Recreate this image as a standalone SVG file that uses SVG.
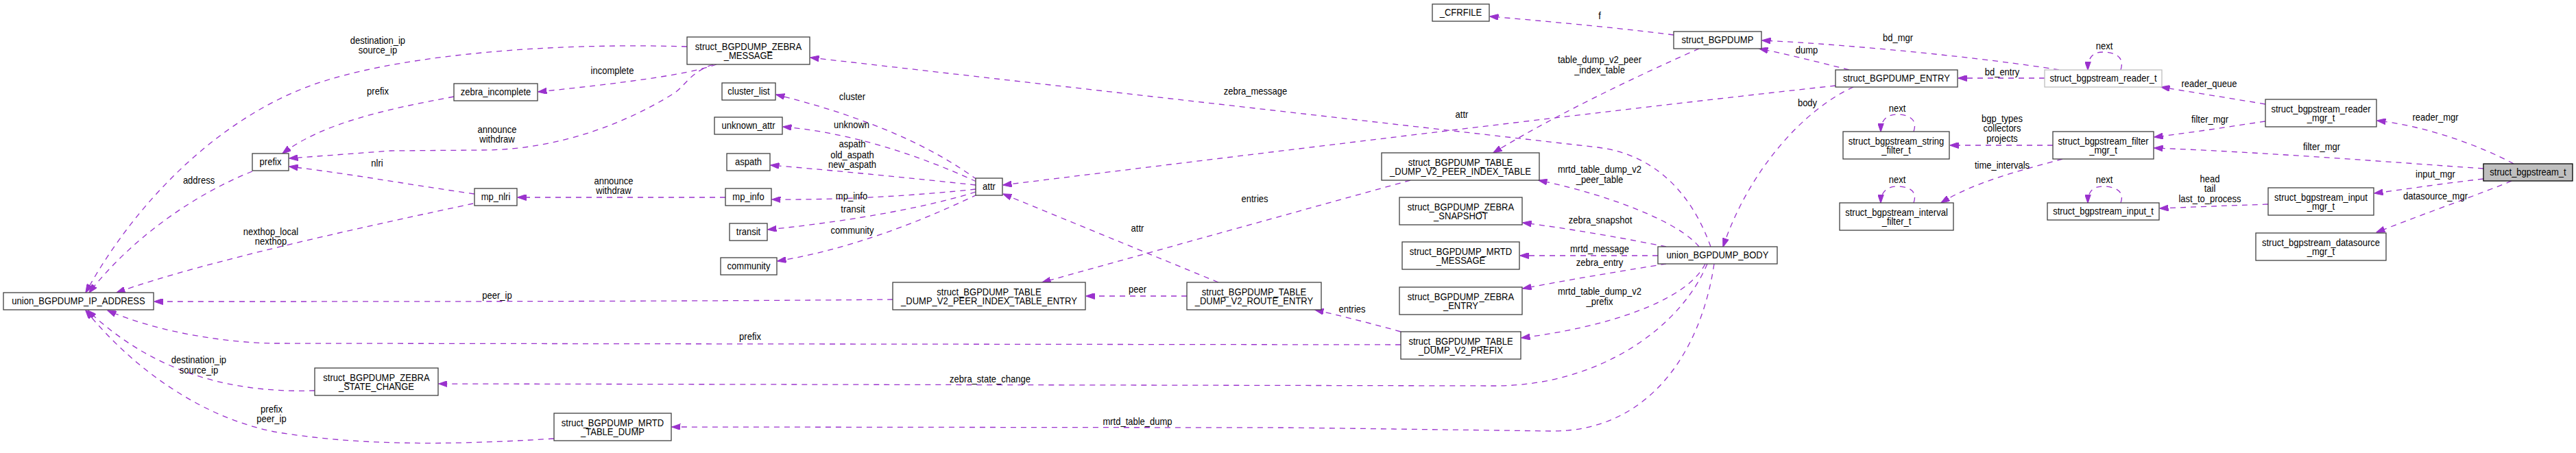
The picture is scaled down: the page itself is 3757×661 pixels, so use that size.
<svg xmlns="http://www.w3.org/2000/svg" width="3757" height="661" viewBox="0 0 3757 661">
<style>
text{font-family:"Liberation Sans",Arial,Helvetica,sans-serif;font-size:14px;text-anchor:middle;fill:#000;transform-box:fill-box;transform-origin:center;transform:scaleX(0.93)}
.node rect{fill:#fff;stroke:#404040;stroke-width:1.3}
#n_reader_t rect{stroke:#bfbfbf}
#n_bgpstream_t rect{fill:#bfbfbf;stroke:#000}
.e path{fill:none;stroke:#9a32cd;stroke-width:1.3;stroke-dasharray:8,7;marker-end:url(#arr)}
</style>
<defs>
<marker id="arr" viewBox="0 0 13 9" refX="12.5" refY="4.5" markerWidth="13" markerHeight="9" markerUnits="userSpaceOnUse" orient="auto">
<path d="M0,0 L13,4.5 L0,9 z" fill="#9a32cd" stroke="#9a32cd" stroke-width="1"/>
</marker>
</defs>
<rect width="3757" height="661" fill="#fff"/>

<g id="edges" class="e">
<path d="M3666,239 C3620,214 3540,184 3467,176"/>
<path d="M3622,246 C3480,236 3300,222 3142,216"/>
<path d="M3622,261 C3560,268 3510,276 3463,282"/>
<path d="M3663,264 C3620,282 3540,310 3466,339"/>
<path d="M3304,152 C3250,143 3200,135 3152,127"/>
<path d="M3304,177 C3250,185 3200,193 3142,200"/>
<path d="M3308,298 C3250,300 3200,302 3150,304"/>
<path d="M2982,114 L2856,114"/>
<path d="M3003,102 C2900,85 2700,65 2570,59"/>
<path d="M2697,102 C2650,90 2610,80 2566,71"/>
<path d="M2441,51 C2380,43 2280,33 2173,24"/>
<path d="M2478,71 C2430,92 2280,160 2178,223"/>
<path d="M2703,127 C2630,160 2550,250 2513,360"/>
<path d="M2677,125 C2400,155 1900,216 1463,270"/>
<path d="M2495,360 C2470,290 2420,226 2330,215 L1182,84"/>
<path d="M2478,360 C2450,325 2350,285 2244,263"/>
<path d="M2430,360 C2380,350 2300,335 2221,325"/>
<path d="M2418,373 L2217,373"/>
<path d="M2430,385 C2380,393 2300,406 2221,421"/>
<path d="M2487,385 C2460,440 2340,478 2219,493"/>
<path d="M2490,385 C2450,480 2330,563 2180,563 L640,560"/>
<path d="M2500,385 C2480,520 2400,630 2263,629 L1880,624 L980,623"/>
<path d="M1777,412 L1463,283"/>
<path d="M1731,432 L1584,432"/>
<path d="M2043,484 C2000,472 1960,462 1918,452"/>
<path d="M2043,503 L400,501 C330,500 230,485 157,453"/>
<path d="M2057,263 L1520,412"/>
<path d="M1302,437 C1000,440 600,440 225,440"/>
<path d="M459,570 C330,574 220,540 128,453"/>
<path d="M808,640 C650,650 520,650 400,630 C300,610 200,545 125,453"/>
<path d="M1002,68 C800,62 600,80 480,116 C330,160 200,290 125,427"/>
<path d="M1045,94 C1000,110 900,122 785,134"/>
<path d="M1040,94 C1005,106 1000,126 980,138 C920,175 820,219 703,219 L570,220 L422,231"/>
<path d="M662,141 C560,160 470,180 412,224"/>
<path d="M692,283 C600,270 520,255 422,243"/>
<path d="M690,297 C560,325 300,380 170,427"/>
<path d="M1058,288 L755,288"/>
<path d="M368,250 C280,285 190,350 130,427"/>
<path d="M1425,262 C1380,230 1300,180 1132,138"/>
<path d="M1424,265 C1370,240 1260,195 1142,185"/>
<path d="M1423,270 C1330,260 1230,250 1124,241"/>
<path d="M1423,276 C1340,285 1230,292 1126,291"/>
<path d="M1423,280 C1360,300 1250,322 1120,335"/>
<path d="M1425,284 C1370,310 1260,360 1134,381"/>
<path d="M2994,212 L2844,212"/>
<path d="M3008,232 C2950,248 2880,265 2831,296"/>
<path d="M3093,102 C3100,80 3080,76 3067,76 C3052,76 3045,84 3045,102"/>
<path d="M3093,296 C3100,276 3080,272 3067,272 C3052,272 3045,280 3045,296"/>
<path d="M2791,192 C2798,172 2780,167 2767,167 C2752,167 2743,175 2743,192"/>
<path d="M2791,296 C2798,276 2780,272 2767,272 C2752,272 2743,280 2743,296"/>

<text x="3552" y="176.5">reader_mgr</text>
<text x="3386" y="219.5">filter_mgr</text>
<text x="3552" y="259.5">input_mgr</text>
<text x="3552" y="291.5">datasource_mgr</text>
<text x="3222" y="127.5">reader_queue</text>
<text x="3223" y="179.5">filter_mgr</text>
<text><tspan x="3223" y="266">head</tspan><tspan x="3223" y="280.5">tail</tspan><tspan x="3223" y="295.5">last_to_process</tspan></text>
<text x="3069" y="72.5">next</text>
<text x="3069" y="267.5">next</text>
<text x="2920" y="110.5">bd_entry</text>
<text x="2768" y="60">bd_mgr</text>
<text><tspan x="2920" y="178.5">bgp_types</tspan><tspan x="2920" y="192.5">collectors</tspan><tspan x="2920" y="207.5">projects</tspan></text>
<text x="2920" y="246.5">time_intervals</text>
<text x="2767" y="163">next</text>
<text x="2767" y="267">next</text>
<text x="2635" y="78.5">dump</text>
<text x="2636" y="155.5">body</text>
<text x="2132" y="172">attr</text>
<text x="2333" y="28.5">f</text>
<text><tspan x="2333" y="92.5">table_dump_v2_peer</tspan><tspan x="2333" y="107.5">_index_table</tspan></text>
<text><tspan x="2333" y="252.5">mrtd_table_dump_v2</tspan><tspan x="2333" y="267.5">_peer_table</tspan></text>
<text x="2334" y="326.5">zebra_snapshot</text>
<text x="2333" y="368">mrtd_message</text>
<text x="2333" y="388.5">zebra_entry</text>
<text><tspan x="2333" y="430.5">mrtd_table_dump_v2</tspan><tspan x="2333" y="445">_prefix</tspan></text>
<text x="1831" y="138.5">zebra_message</text>
<text x="1444" y="558">zebra_state_change</text>
<text x="1659" y="620">mrtd_table_dump</text>
<text x="1659" y="338.5">attr</text>
<text x="1659" y="427.5">peer</text>
<text x="1972" y="456.5">entries</text>
<text x="1094" y="496.5">prefix</text>
<text x="1830" y="295.5">entries</text>
<text x="725" y="436">peer_ip</text>
<text><tspan x="290" y="530.5">destination_ip</tspan><tspan x="290" y="545">source_ip</tspan></text>
<text><tspan x="396" y="602.5">prefix</tspan><tspan x="396" y="616.5">peer_ip</tspan></text>
<text><tspan x="551" y="64">destination_ip</tspan><tspan x="551" y="78.5">source_ip</tspan></text>
<text x="893" y="108.5">incomplete</text>
<text><tspan x="725" y="194.5">announce</tspan><tspan x="725" y="208.5">withdraw</tspan></text>
<text x="551" y="138.5">prefix</text>
<text x="550" y="243.5">nlri</text>
<text><tspan x="395" y="343">nexthop_local</tspan><tspan x="395" y="357">nexthop</tspan></text>
<text><tspan x="895" y="269">announce</tspan><tspan x="895" y="283.5">withdraw</tspan></text>
<text x="290" y="268">address</text>
<text x="1243" y="146.5">cluster</text>
<text x="1242" y="187.5">unknown</text>
<text><tspan x="1243" y="215.5">aspath</tspan><tspan x="1243" y="231">old_aspath</tspan><tspan x="1243" y="245">new_aspath</tspan></text>
<text x="1242" y="291">mp_info</text>
<text x="1244" y="310.5">transit</text>
<text x="1243" y="341">community</text>
</g>

<g id="n_ip_address" class="node"><rect x="5" y="427" width="219" height="25"/><text x="114.5" y="444">union_BGPDUMP_IP_ADDRESS</text></g>
<g id="n_prefix" class="node"><rect x="368" y="224" width="53" height="25"/><text x="394.5" y="241">prefix</text></g>
<g id="n_zebra_incomplete" class="node"><rect x="662" y="122" width="122" height="25"/><text x="723" y="139">zebra_incomplete</text></g>
<g id="n_mp_nlri" class="node"><rect x="692" y="275" width="62" height="25"/><text x="723" y="292">mp_nlri</text></g>
<g id="n_zebra_state_change" class="node"><rect x="459" y="537" width="180" height="40"/><text><tspan x="549" y="556">struct_BGPDUMP_ZEBRA</tspan><tspan x="549" y="569">_STATE_CHANGE</tspan></text></g>
<g id="n_mrtd_table_dump" class="node"><rect x="808" y="603" width="171" height="40"/><text><tspan x="893.5" y="622">struct_BGPDUMP_MRTD</tspan><tspan x="893.5" y="635">_TABLE_DUMP</tspan></text></g>
<g id="n_zebra_message" class="node"><rect x="1002" y="54" width="179" height="40"/><text><tspan x="1091.5" y="73">struct_BGPDUMP_ZEBRA</tspan><tspan x="1091.5" y="86">_MESSAGE</tspan></text></g>
<g id="n_cluster_list" class="node"><rect x="1053" y="121" width="78" height="25"/><text x="1092" y="138">cluster_list</text></g>
<g id="n_unknown_attr" class="node"><rect x="1042" y="171" width="99" height="25"/><text x="1091.5" y="188">unknown_attr</text></g>
<g id="n_aspath" class="node"><rect x="1060" y="224" width="63" height="25"/><text x="1091.5" y="241">aspath</text></g>
<g id="n_mp_info" class="node"><rect x="1058" y="275" width="67" height="25"/><text x="1091.5" y="292">mp_info</text></g>
<g id="n_transit" class="node"><rect x="1064" y="326" width="55" height="25"/><text x="1091.5" y="343">transit</text></g>
<g id="n_community" class="node"><rect x="1051" y="376" width="82" height="25"/><text x="1092" y="393">community</text></g>
<g id="n_peer_index_table_entry" class="node"><rect x="1302" y="412" width="281" height="40"/><text><tspan x="1442.5" y="431">struct_BGPDUMP_TABLE</tspan><tspan x="1442.5" y="444">_DUMP_V2_PEER_INDEX_TABLE_ENTRY</tspan></text></g>
<g id="n_attr" class="node"><rect x="1423" y="260" width="39" height="25"/><text x="1442.5" y="277">attr</text></g>
<g id="n_route_entry" class="node"><rect x="1731" y="412" width="196" height="40"/><text><tspan x="1829" y="431">struct_BGPDUMP_TABLE</tspan><tspan x="1829" y="444">_DUMP_V2_ROUTE_ENTRY</tspan></text></g>
<g id="n_cfrfile" class="node"><rect x="2089" y="6" width="83" height="25"/><text x="2130.5" y="23">_CFRFILE</text></g>
<g id="n_peer_index_table" class="node"><rect x="2015" y="223" width="230" height="40"/><text><tspan x="2130" y="242">struct_BGPDUMP_TABLE</tspan><tspan x="2130" y="255">_DUMP_V2_PEER_INDEX_TABLE</tspan></text></g>
<g id="n_zebra_snapshot" class="node"><rect x="2041" y="288" width="179" height="40"/><text><tspan x="2130.5" y="307">struct_BGPDUMP_ZEBRA</tspan><tspan x="2130.5" y="320">_SNAPSHOT</tspan></text></g>
<g id="n_mrtd_message" class="node"><rect x="2045" y="353" width="171" height="40"/><text><tspan x="2130.5" y="372">struct_BGPDUMP_MRTD</tspan><tspan x="2130.5" y="385">_MESSAGE</tspan></text></g>
<g id="n_zebra_entry" class="node"><rect x="2041" y="419" width="179" height="40"/><text><tspan x="2130.5" y="438">struct_BGPDUMP_ZEBRA</tspan><tspan x="2130.5" y="451">_ENTRY</tspan></text></g>
<g id="n_v2_prefix" class="node"><rect x="2043" y="484" width="175" height="40"/><text><tspan x="2130.5" y="503">struct_BGPDUMP_TABLE</tspan><tspan x="2130.5" y="516">_DUMP_V2_PREFIX</tspan></text></g>
<g id="n_bgpdump" class="node"><rect x="2441" y="46" width="128" height="25"/><text x="2505" y="63">struct_BGPDUMP</text></g>
<g id="n_bgpdump_entry" class="node"><rect x="2677" y="102" width="178" height="25"/><text x="2766" y="119">struct_BGPDUMP_ENTRY</text></g>
<g id="n_string_filter" class="node"><rect x="2688" y="192" width="155" height="40"/><text><tspan x="2765.5" y="211">struct_bgpstream_string</tspan><tspan x="2765.5" y="224">_filter_t</tspan></text></g>
<g id="n_interval_filter" class="node"><rect x="2683" y="296" width="166" height="40"/><text><tspan x="2766" y="315">struct_bgpstream_interval</tspan><tspan x="2766" y="328">_filter_t</tspan></text></g>
<g id="n_body" class="node"><rect x="2418" y="360" width="174" height="25"/><text x="2505" y="377">union_BGPDUMP_BODY</text></g>
<g id="n_reader_t" class="node"><rect x="2982" y="102" width="171" height="25"/><text x="3067.5" y="119">struct_bgpstream_reader_t</text></g>
<g id="n_filter_mgr" class="node"><rect x="2994" y="192" width="147" height="40"/><text><tspan x="3067.5" y="211">struct_bgpstream_filter</tspan><tspan x="3067.5" y="224">_mgr_t</tspan></text></g>
<g id="n_input_t" class="node"><rect x="2986" y="296" width="163" height="25"/><text x="3067.5" y="313">struct_bgpstream_input_t</text></g>
<g id="n_reader_mgr" class="node"><rect x="3304" y="145" width="162" height="40"/><text><tspan x="3385" y="164">struct_bgpstream_reader</tspan><tspan x="3385" y="177">_mgr_t</tspan></text></g>
<g id="n_bgpstream_t" class="node"><rect x="3622" y="239" width="130" height="25"/><text x="3687" y="256">struct_bgpstream_t</text></g>
<g id="n_input_mgr" class="node"><rect x="3308" y="274" width="154" height="40"/><text><tspan x="3385" y="293">struct_bgpstream_input</tspan><tspan x="3385" y="306">_mgr_t</tspan></text></g>
<g id="n_datasource_mgr" class="node"><rect x="3290" y="340" width="190" height="40"/><text><tspan x="3385" y="359">struct_bgpstream_datasource</tspan><tspan x="3385" y="372">_mgr_t</tspan></text></g>
</svg>
